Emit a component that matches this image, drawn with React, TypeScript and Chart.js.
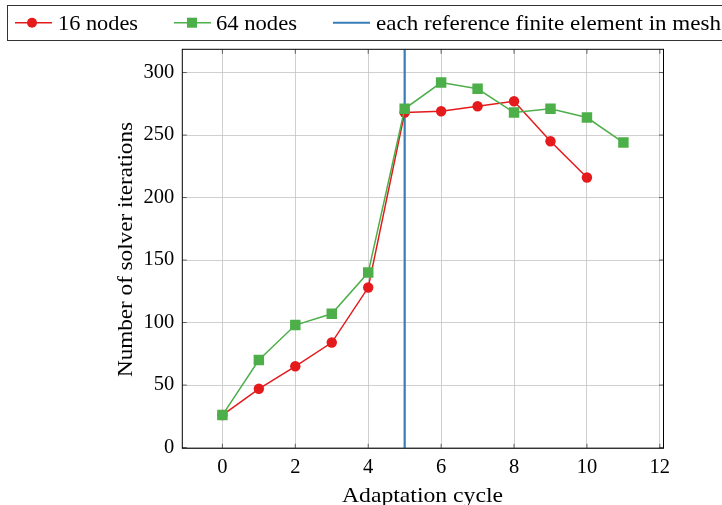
import React, { useEffect, useRef } from 'react';
import { Chart, registerables } from 'chart.js';

Chart.register(...registerables);

// Solver iterations per adaptation cycle
const cycles16 = [0, 1, 2, 3, 4, 5, 6, 7, 8, 9, 10];
const iterations16 = [26, 47, 65, 84, 128, 268, 269, 273, 277, 245, 216];
const cycles64 = [0, 1, 2, 3, 4, 5, 6, 7, 8, 9, 10, 11];
const iterations64 = [26, 70, 98, 107, 140, 271, 292, 287, 268, 271, 264, 244];
const referenceCycle = 5;

const xTicks = [0, 2, 4, 6, 8, 10, 12];
const yTicks = [0, 50, 100, 150, 200, 250, 300];
const xRange = [-1.1, 12.1];
const yRange = [-0.6, 318.6];

const legendLabels = ['16 nodes', '64 nodes', 'each reference finite element in mesh'];
const xTitle = 'Adaptation cycle';
const yTitle = 'Number of solver iterations';

const RED = '#e41a1c';
const GREEN = '#4daf4a';
const BLUE = '#377eb8';
const FONT = '"Liberation Serif", "Times New Roman", serif';

const W = 722;
const H = 505;
const PLOT_LEFT = 182.3;
const PLOT_TOP = 49.3;
const PLOT_RIGHT = 663.5;
const PLOT_BOTTOM = 448.3;

// Draws text starting at (x, baseline y), stretched horizontally to the given width
function drawFitted(ctx: CanvasRenderingContext2D, text: string, x: number, y: number, width: number, size: number, angle = 0) {
  ctx.save();
  ctx.font = `${size}px ${FONT}`;
  ctx.textAlign = 'left';
  ctx.textBaseline = 'alphabetic';
  ctx.fillStyle = '#000';
  const natural = ctx.measureText(text).width;
  ctx.translate(x, y);
  if (angle) ctx.rotate(angle);
  ctx.scale(width / natural, 1);
  ctx.fillText(text, 0, 0);
  ctx.restore();
}

const framePlugin = {
  id: 'frame',
  afterDatasetsDraw(chart: any) {
    const { ctx, chartArea: a, scales } = chart;
    const L = 4.5;
    ctx.save();
    ctx.strokeStyle = '#404040';
    ctx.lineWidth = 0.8;
    ctx.beginPath();
    for (const v of xTicks) {
      const px = scales.x.getPixelForValue(v);
      ctx.moveTo(px, a.bottom);
      ctx.lineTo(px, a.bottom - L);
      ctx.moveTo(px, a.top);
      ctx.lineTo(px, a.top + L);
    }
    for (const v of yTicks) {
      const py = scales.y.getPixelForValue(v);
      ctx.moveTo(a.left, py);
      ctx.lineTo(a.left + L, py);
      ctx.moveTo(a.right, py);
      ctx.lineTo(a.right - L, py);
    }
    ctx.stroke();
    ctx.strokeStyle = '#000';
    ctx.lineWidth = 1;
    ctx.strokeRect(a.left, a.top, a.right - a.left, a.bottom - a.top);
    ctx.restore();
  },
};

const labelsPlugin = {
  id: 'labels',
  afterDraw(chart: any) {
    const ctx = chart.ctx as CanvasRenderingContext2D;
    const cy = 22.7;
    ctx.save();
    ctx.strokeStyle = '#333';
    ctx.lineWidth = 1;
    ctx.strokeRect(7.5, 5.5, 780, 35);

    // 16 nodes
    ctx.strokeStyle = RED;
    ctx.lineWidth = 1.6;
    ctx.beginPath();
    ctx.moveTo(15, cy);
    ctx.lineTo(52, cy);
    ctx.stroke();
    ctx.fillStyle = RED;
    ctx.beginPath();
    ctx.arc(32, cy, 5, 0, Math.PI * 2);
    ctx.fill();
    drawFitted(ctx, legendLabels[0], 58, 29.5, 80, 21);

    // 64 nodes
    ctx.strokeStyle = GREEN;
    ctx.beginPath();
    ctx.moveTo(174, cy);
    ctx.lineTo(211, cy);
    ctx.stroke();
    ctx.fillStyle = GREEN;
    ctx.fillRect(187, cy - 5, 10, 10);
    drawFitted(ctx, legendLabels[1], 216, 29.5, 81, 21);

    // reference line
    ctx.strokeStyle = BLUE;
    ctx.lineWidth = 2;
    ctx.beginPath();
    ctx.moveTo(333, cy);
    ctx.lineTo(370, cy);
    ctx.stroke();
    drawFitted(ctx, legendLabels[2], 376, 29.5, 345, 21);

    // axis titles
    drawFitted(ctx, xTitle, 342, 501.5, 161, 21);
    drawFitted(ctx, yTitle, 131.5, 377, 255, 21, -Math.PI / 2);
    ctx.restore();
  },
};

export default function App() {
  const ref = useRef<HTMLCanvasElement>(null);

  useEffect(() => {
    if (!ref.current) return;
    const chart = new Chart(ref.current, {
      type: 'scatter',
      data: {
        datasets: [
          {
            label: legendLabels[0],
            data: cycles16.map((x, i) => ({ x, y: iterations16[i] })),
            showLine: true,
            borderColor: RED,
            backgroundColor: RED,
            borderWidth: 1.5,
            pointStyle: 'circle',
            pointRadius: 5.2,
            pointBorderWidth: 0,
            pointBackgroundColor: RED,
            order: 1,
          },
          {
            label: legendLabels[1],
            data: cycles64.map((x, i) => ({ x, y: iterations64[i] })),
            showLine: true,
            borderColor: GREEN,
            backgroundColor: GREEN,
            borderWidth: 1.5,
            pointStyle: 'rect',
            pointRadius: 7.4,
            pointBorderWidth: 0,
            pointBackgroundColor: GREEN,
            order: 0,
          },
          {
            label: legendLabels[2],
            data: [
              { x: referenceCycle, y: yRange[0] },
              { x: referenceCycle, y: yRange[1] },
            ],
            showLine: true,
            borderColor: BLUE,
            borderWidth: 2.2,
            pointRadius: 0,
            order: 2,
          },
        ],
      },
      options: {
        responsive: false,
        animation: false,
        events: [],
        layout: { padding: { top: PLOT_TOP, right: W - PLOT_RIGHT, left: 0, bottom: 0 } },
        plugins: {
          legend: { display: false },
          tooltip: { enabled: false },
        },
        scales: {
          x: {
            type: 'linear',
            min: xRange[0],
            max: xRange[1],
            afterBuildTicks: (axis: any) => {
              axis.ticks = xTicks.map((value) => ({ value }));
            },
            afterFit: (axis: any) => {
              axis.height = H - PLOT_BOTTOM;
            },
            grid: { color: '#c4c4c4', lineWidth: 0.8, drawTicks: false },
            border: { display: false },
            ticks: {
              color: '#000',
              padding: 7,
              maxRotation: 0,
              font: { family: FONT, size: 20.5 },
            },
            title: { display: false },
          },
          y: {
            type: 'linear',
            min: yRange[0],
            max: yRange[1],
            afterBuildTicks: (axis: any) => {
              axis.ticks = yTicks.map((value) => ({ value }));
            },
            afterFit: (axis: any) => {
              axis.width = PLOT_LEFT;
            },
            grid: { color: '#c4c4c4', lineWidth: 0.8, drawTicks: false },
            border: { display: false },
            ticks: {
              color: '#000',
              padding: 8,
              font: { family: FONT, size: 20.5 },
            },
            title: { display: false },
          },
        },
      },
      plugins: [framePlugin, labelsPlugin],
    });
    return () => chart.destroy();
  }, []);

  return (
    <div style={{ position: 'fixed', left: 0, top: 0, width: W, height: H, background: '#fff', overflow: 'hidden' }}>
      <canvas ref={ref} width={W} height={H} style={{ display: 'block', width: W, height: H }} />
    </div>
  );
}
